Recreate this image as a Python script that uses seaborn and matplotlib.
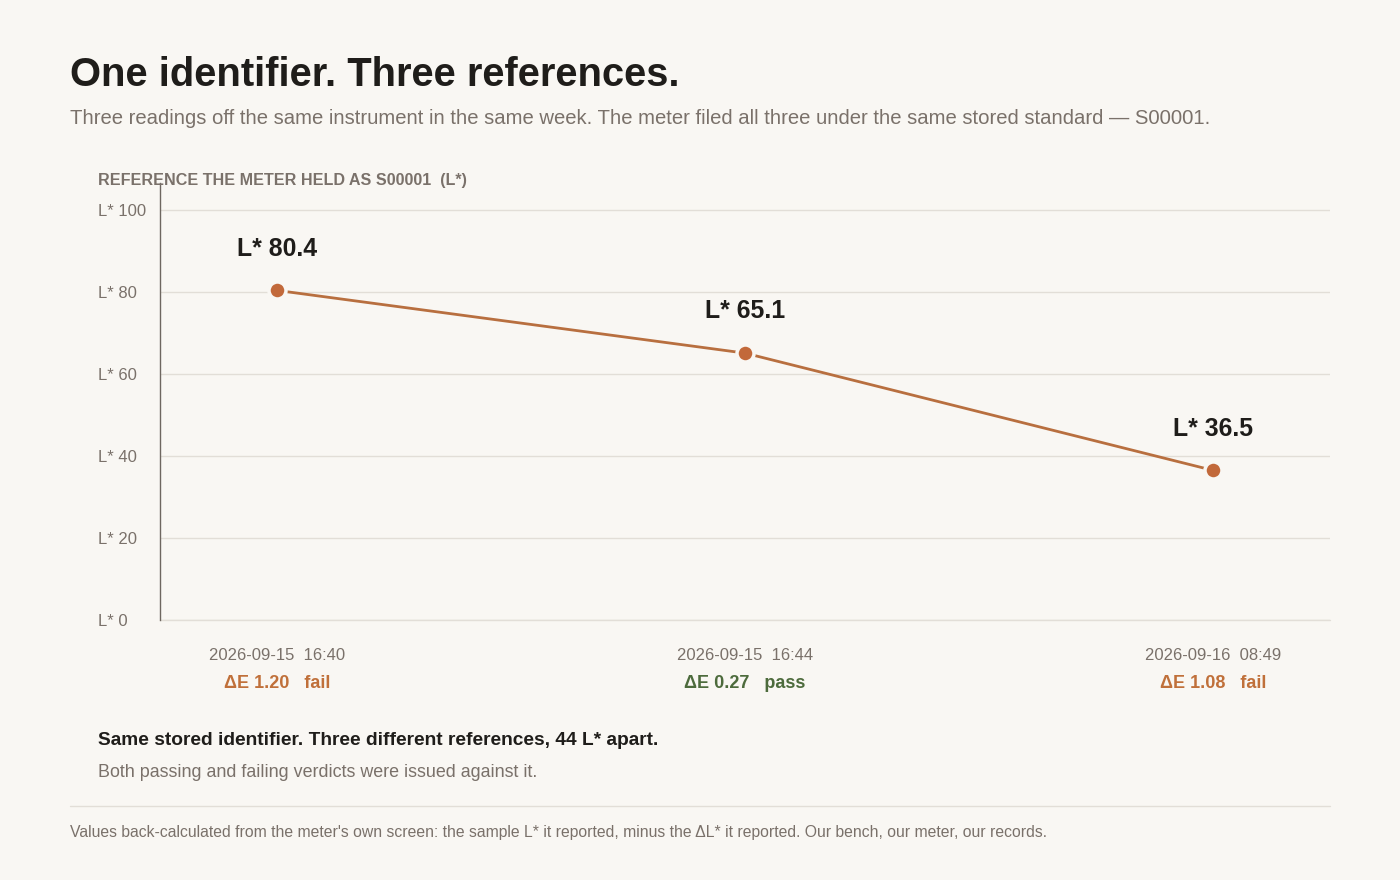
import matplotlib
matplotlib.use("Agg")
import matplotlib.pyplot as plt
import matplotlib.transforms as mtransforms
import seaborn as sns
import pandas as pd

# ---- data ----
timestamps = ["2026-09-15  16:40", "2026-09-15  16:44", "2026-09-16  08:49"]
ref_lstar = [80.4, 65.1, 36.5]
delta_e = [1.20, 0.27, 1.08]
verdicts = ["fail", "pass", "fail"]
y_ticks = [0, 20, 40, 60, 80, 100]
y_tick_labels = ["L* 0", "L* 20", "L* 40", "L* 60", "L* 80", "L* 100"]

BG = "#f9f7f3"
INK = "#1f1d1a"
GRAY = "#7a716a"
LINE = "#b86f3f"
DOT = "#c2693a"
FAIL = "#c0703a"
PASS = "#4d6b3c"
GRID = "#e2ded7"

sns.set_theme(style="white")
plt.rcParams["font.family"] = ["Liberation Sans", "DejaVu Sans"]

df = pd.DataFrame({"pos": range(len(timestamps)), "L": ref_lstar, "ts": timestamps})

W, H = 1400, 880
fig = plt.figure(figsize=(W / 100, H / 100), dpi=100, facecolor=BG)
ax = fig.add_axes([160 / W, 1 - 620 / H, 1170 / W, (620 - 183) / H])
ax.set_facecolor(BG)

sns.lineplot(data=df, x="pos", y="L", ax=ax, color=LINE, linewidth=2.0, zorder=3)
sns.scatterplot(data=df, x="pos", y="L", ax=ax, color=DOT, s=150,
                edgecolor=BG, linewidth=2.5, zorder=4)

ax.set_xlim(-0.25, 2.25)
ax.set_ylim(0, 106.6)
ax.set_yticks(y_ticks)
ax.set_yticklabels(y_tick_labels)
for lbl in ax.get_yticklabels():
    lbl.set_horizontalalignment("left")
    lbl.set_color(GRAY)
    lbl.set_fontsize(12)
ax.tick_params(axis="y", length=0, pad=62 * 72 / 100)
ax.set_xticks(range(len(timestamps)))
ax.set_xticklabels(timestamps, fontsize=12, color=GRAY)
ax.tick_params(axis="x", length=0, pad=20)
ax.set_xlabel("")
ax.set_ylabel("")

ax.grid(axis="y", color=GRID, linewidth=1)
ax.grid(axis="x", visible=False)
ax.axhline(0, color=GRID, linewidth=1, clip_on=False, zorder=1)
for s in ["top", "right", "bottom"]:
    ax.spines[s].set_visible(False)
ax.spines["left"].set_color("#6e6760")
ax.spines["left"].set_linewidth(1)

# point labels
for i, v in enumerate(ref_lstar):
    ax.annotate(f"L* {v:.1f}", (i, v), xytext=(0, 30), textcoords="offset points",
                ha="center", va="center", fontsize=17.9, fontweight="bold", color=INK)

# delta E / verdict row
trans = mtransforms.blended_transform_factory(ax.transData, fig.transFigure)
for i, (de, vd) in enumerate(zip(delta_e, verdicts)):
    c = PASS if vd == "pass" else FAIL
    ax.text(i, 1 - 683 / H, f"ΔE {de:.2f}   {vd}", transform=trans, ha="center",
            va="center", fontsize=13, fontweight="bold", color=c)

# titles
fig.text(70 / W, 1 - 75 / H, "One identifier. Three references.", fontsize=28.7,
         fontweight="bold", color=INK, va="center", ha="left")
fig.text(70 / W, 1 - 119 / H,
         "Three readings off the same instrument in the same week. The meter filed all three under the same stored standard \u2014 S00001.",
         fontsize=14.58, color=GRAY, va="center", ha="left")
fig.text(98 / W, 1 - 180 / H, "REFERENCE THE METER HELD AS S00001  (L*)", fontsize=11.6,
         fontweight="bold", color=GRAY, va="center", ha="left")

# bottom notes
fig.text(98 / W, 1 - 740 / H, "Same stored identifier. Three different references, 44 L* apart.",
         fontsize=13.8, fontweight="bold", color=INK, va="center", ha="left")
fig.text(98 / W, 1 - 772 / H, "Both passing and failing verdicts were issued against it.",
         fontsize=12.9, color=GRAY, va="center", ha="left")
fig.add_artist(plt.Line2D([70 / W, 1330 / W], [1 - 806 / H, 1 - 806 / H],
                          transform=fig.transFigure, color=GRID, linewidth=1))
fig.text(70 / W, 1 - 832 / H,
         "Values back-calculated from the meter's own screen: the sample L* it reported, minus the \u0394L* it reported. Our bench, our meter, our records.",
         fontsize=11.35, color=GRAY, va="center", ha="left")

fig.savefig("out.png", dpi=100, facecolor=BG)
